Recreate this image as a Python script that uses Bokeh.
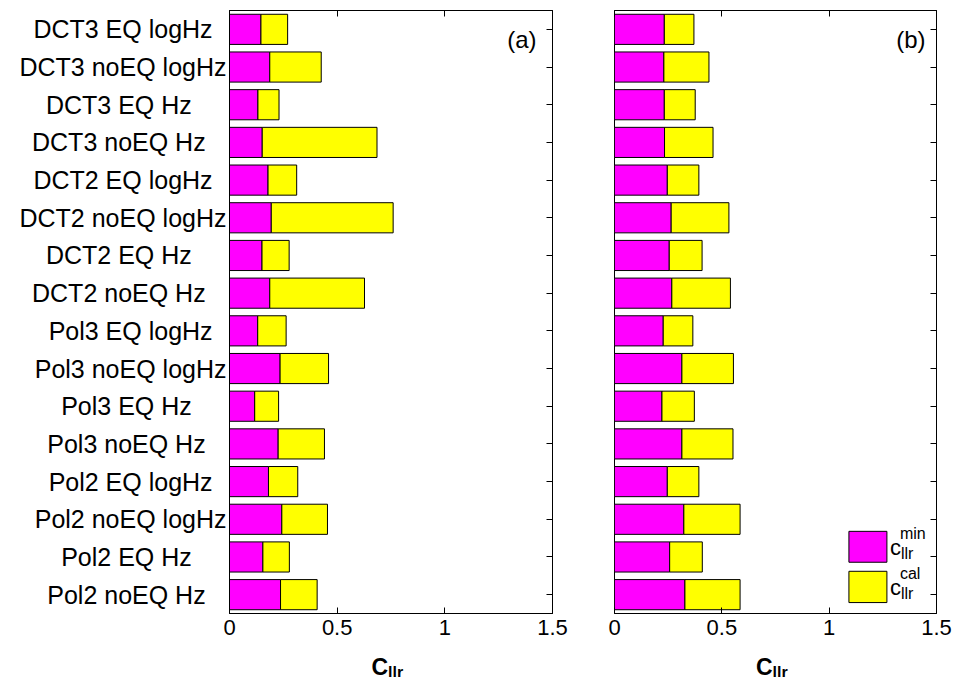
from bokeh.plotting import figure
from bokeh.models import Range1d, FixedTicker, LinearAxis, Label, CustomJSTickFormatter
from bokeh.core.properties import value
from bokeh.layouts import row, column
from bokeh.embed import file_html
from bokeh.resources import INLINE

# Feature configurations, listed from the top bar to the bottom bar
systems = [
    "DCT3 EQ logHz", "DCT3 noEQ logHz", "DCT3 EQ Hz", "DCT3 noEQ Hz",
    "DCT2 EQ logHz", "DCT2 noEQ logHz", "DCT2 EQ Hz", "DCT2 noEQ Hz",
    "Pol3 EQ logHz", "Pol3 noEQ logHz", "Pol3 EQ Hz", "Pol3 noEQ Hz",
    "Pol2 EQ logHz", "Pol2 noEQ logHz", "Pol2 EQ Hz", "Pol2 noEQ Hz",
]

# Panel (a): minimum Cllr and actual Cllr (min + calibration loss)
cllr_min_a = [0.146, 0.187, 0.132, 0.152, 0.179, 0.194, 0.151, 0.187,
              0.131, 0.235, 0.117, 0.226, 0.181, 0.243, 0.155, 0.237]
cllr_a = [0.270, 0.426, 0.230, 0.685, 0.312, 0.760, 0.277, 0.627,
          0.263, 0.460, 0.228, 0.441, 0.317, 0.455, 0.278, 0.407]

# Panel (b)
cllr_min_b = [0.232, 0.230, 0.232, 0.233, 0.246, 0.264, 0.255, 0.267,
              0.227, 0.314, 0.221, 0.314, 0.246, 0.323, 0.257, 0.328]
cllr_b = [0.370, 0.440, 0.376, 0.459, 0.393, 0.533, 0.408, 0.540,
          0.365, 0.554, 0.372, 0.552, 0.393, 0.585, 0.409, 0.585]

x_ticks = [0, 0.5, 1, 1.5]
X_MAX = 1.5

FONT = "Liberation Sans"
MAGENTA = "#ff00ff"
YELLOW = "#ffff00"
N = len(systems)
ys = [N - i for i in range(N)]

# category names padded like a fixed-width character matrix, right-aligned
longest = max(len(s) for s in systems)
padded = [s + "\u00a0" * (longest - len(s)) for s in systems]

PANEL_H = 645
STRIP_H = 677 - PANEL_H


def make_panel(cmin, cllr, tag, width, border_left, border_right,
               show_names=False, show_legend=False):
    p = figure(width=width, height=PANEL_H, title=None,
               x_range=Range1d(0, X_MAX), y_range=Range1d(0.5, N + 0.5),
               x_axis_type=None, y_axis_type=None,
               output_backend="svg", toolbar_location=None,
               min_border_left=border_left, min_border_right=border_right,
               min_border_top=10, min_border_bottom=PANEL_H - 613)
    p.outline_line_color = "black"
    p.outline_line_width = 1
    p.background_fill_color = "white"
    p.border_fill_color = "white"

    # stacked horizontal bars: minimum part, then calibration loss
    p.hbar(y=ys, left=0, right=cmin, height=0.8,
           fill_color=MAGENTA, line_color="black", line_width=1)
    p.hbar(y=ys, left=cmin, right=cllr, height=0.8,
           fill_color=YELLOW, line_color="black", line_width=1)

    fmt = CustomJSTickFormatter(code="return tick.toString();")
    blank = CustomJSTickFormatter(code="return '';")

    bottom = LinearAxis(ticker=FixedTicker(ticks=x_ticks), formatter=fmt,
                        major_tick_in=6, major_tick_out=0,
                        minor_tick_in=0, minor_tick_out=0,
                        major_label_standoff=6,
                        major_label_text_font=FONT,
                        major_label_text_font_size="22px",
                        major_label_text_color="black",
                        axis_line_color="black", major_tick_line_color="black")
    p.add_layout(bottom, "below")

    def tick_axis(ticks):
        return LinearAxis(ticker=FixedTicker(ticks=ticks), formatter=blank,
                          major_tick_in=6, major_tick_out=0,
                          minor_tick_in=0, minor_tick_out=0,
                          major_label_standoff=0,
                          major_label_text_font_size="0px",
                          axis_line_color="black",
                          major_tick_line_color="black")

    p.add_layout(tick_axis(x_ticks), "above")
    p.add_layout(tick_axis(ys), "right")

    if show_names:
        names_fmt = CustomJSTickFormatter(
            args=dict(names=padded, n=N),
            code="return names[Math.round(n - tick)];")
        left = LinearAxis(ticker=FixedTicker(ticks=ys), formatter=names_fmt,
                          major_tick_in=0, major_tick_out=0,
                          minor_tick_in=0, minor_tick_out=0,
                          major_label_standoff=3,
                          major_label_text_font=FONT,
                          major_label_text_font_size="25px",
                          major_label_text_color="black",
                          axis_line_color="black")
        p.add_layout(left, "left")

    # panel tag
    p.add_layout(Label(x=X_MAX, y=N + 0.5, x_offset=-16 if tag == "(a)" else -11,
                       y_offset=-15, text=tag,
                       text_align="right", text_baseline="top",
                       text_font=FONT, text_font_size="24px",
                       text_color="black"))

    if show_legend:
        # legend swatches in the lower right corner
        x0, x1 = 1.092, 1.269
        swatches = [(MAGENTA, 2.68, 1.86, "min"), (YELLOW, 1.62, 0.79, "cal")]
        for color, ytop, ybot, sup in swatches:
            p.quad(left=[x0], right=[x1], top=[ytop], bottom=[ybot],
                   fill_color=color, line_color="black", line_width=1)
            yc = (ytop + ybot) / 2
            p.add_layout(Label(x=x1, y=yc, x_offset=3, y_offset=-1, text="c",
                               text_align="left", text_baseline="alphabetic",
                               text_font=FONT, text_font_size="22px",
                               text_color="black"))
            p.add_layout(Label(x=x1, y=yc, x_offset=13, y_offset=13, text=sup,
                               text_align="left", text_baseline="alphabetic",
                               text_font=FONT, text_font_size="16px",
                               text_color="black"))
            p.add_layout(Label(x=x1, y=yc, x_offset=14, y_offset=-7, text="llr",
                               text_align="left", text_baseline="alphabetic",
                               text_font=FONT, text_font_size="16px",
                               text_color="black"))

    # strip under the panel carrying the x axis title (bold C, subscript llr);
    # its y coordinate counts pixels up from the bottom of the strip
    s = figure(width=width, height=STRIP_H, title=None,
               x_range=p.x_range, y_range=Range1d(0, STRIP_H),
               x_axis_type=None, y_axis_type=None,
               output_backend="svg", toolbar_location=None,
               min_border_left=border_left, min_border_right=border_right,
               min_border_top=0, min_border_bottom=0)
    s.outline_line_color = None
    s.background_fill_color = "white"
    s.border_fill_color = "white"
    s.text(x=[X_MAX / 2], y=[11], text=["C"], x_offset=-3,
           text_align="right", text_baseline="alphabetic",
           text_font=value(FONT), text_font_size="23px",
           text_font_style="bold", text_color="black")
    s.text(x=[X_MAX / 2], y=[5], text=["llr"], x_offset=-3,
           text_align="left", text_baseline="alphabetic",
           text_font=value(FONT), text_font_size="16px",
           text_font_style="bold", text_color="black")
    return column(p, s)


pa = make_panel(cllr_min_a, cllr_a, "(a)", 583, 229, 31, show_names=True)
pb = make_panel(cllr_min_b, cllr_b, "(b)", 373, 31, 20, show_legend=True)

layout = row(pa, pb)
open("out.html", "w").write(file_html(layout, INLINE))
